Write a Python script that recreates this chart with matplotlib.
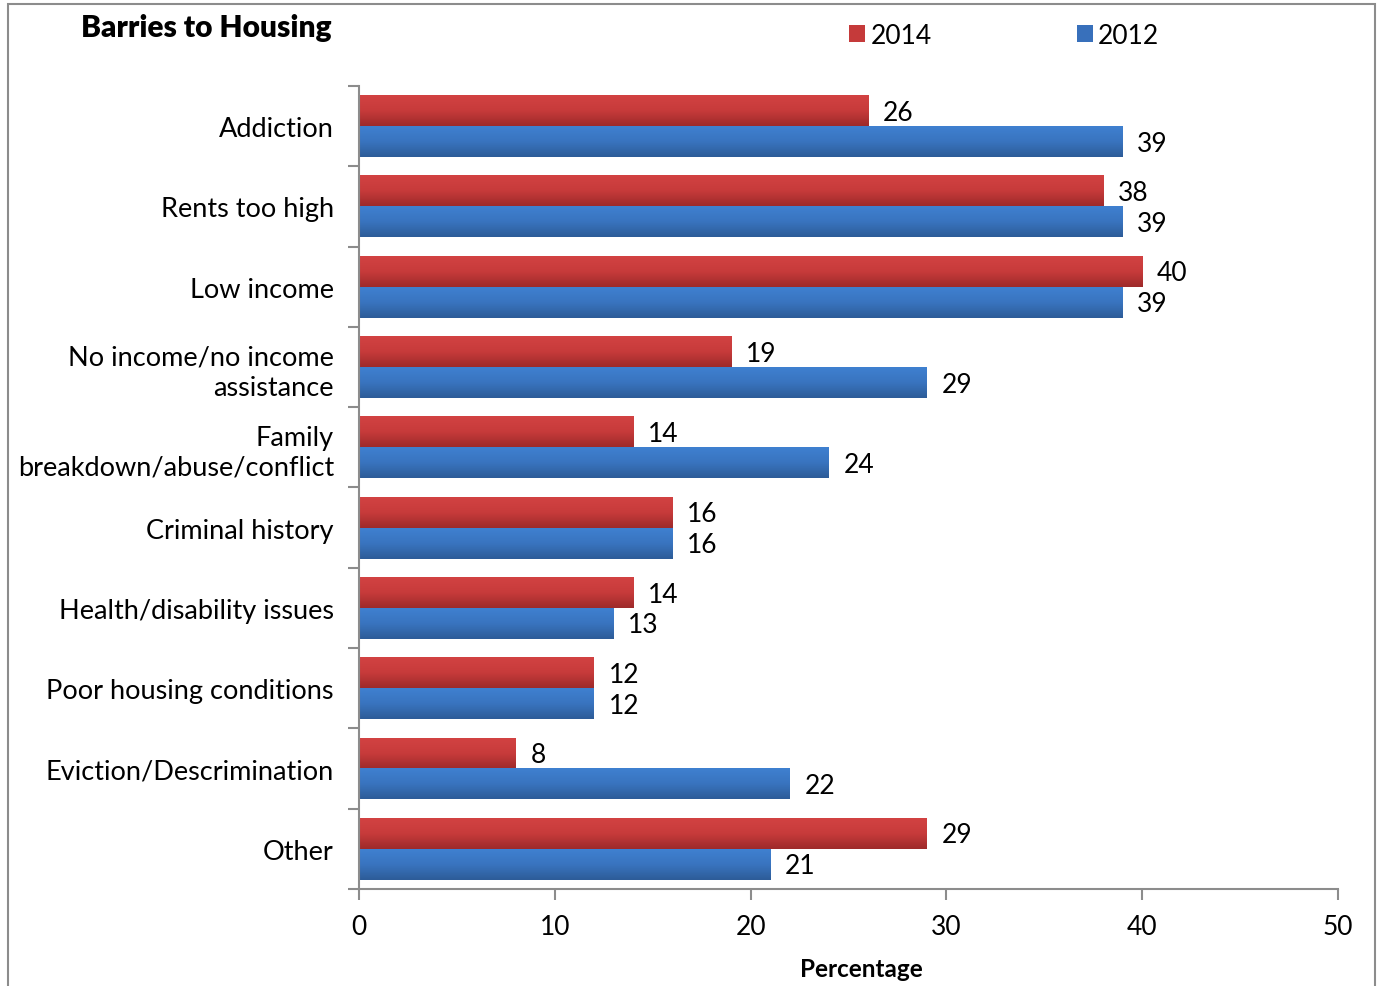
import numpy as np
import matplotlib.pyplot as plt
from matplotlib.colors import LinearSegmentedColormap
from matplotlib.patches import Patch, Rectangle

categories = [
    "Addiction",
    "Rents too high",
    "Low income",
    "No income/no income\nassistance",
    "Family\nbreakdown/abuse/conflict",
    "Criminal history",
    "Health/disability issues",
    "Poor housing conditions",
    "Eviction/Descrimination",
    "Other",
]
values_2014 = [26, 38, 40, 19, 14, 16, 14, 12, 8, 29]
values_2012 = [39, 39, 39, 29, 24, 16, 13, 12, 22, 21]
x_ticks = [0, 10, 20, 30, 40, 50]

plt.rcParams["font.family"] = ["Lato", "DejaVu Sans"]

fig = plt.figure(figsize=(13.77, 9.87), dpi=100)
ax = fig.add_axes([0.2607, 0.0983, 0.711, 0.8136])

n = len(categories)
y = np.arange(n)
h = 0.385

red_cmap = LinearSegmentedColormap.from_list("r", ["#d24242", "#c73b3b", "#9e2a2a"])
blue_cmap = LinearSegmentedColormap.from_list("b", ["#3f80d0", "#3974bf", "#2d5c98"])

bars_red = ax.barh(y - h / 2, values_2014, height=h, color="#c53a3a", label="2014")
bars_blue = ax.barh(y + h / 2, values_2012, height=h, color="#3870bb", label="2012")

grad = np.linspace(0, 1, 64).reshape(-1, 1)
for bars, cmap in [(bars_red, red_cmap), (bars_blue, blue_cmap)]:
    for b in bars:
        x0, y0 = b.get_x(), b.get_y()
        w, hh = b.get_width(), b.get_height()
        # y axis is inverted, so y0 is the top edge of the bar
        ax.imshow(grad, cmap=cmap, aspect="auto", extent=(x0, x0 + w, y0 + hh, y0),
                  zorder=2, interpolation="bilinear")
        b.set_alpha(0)

for bars, vals in [(bars_red, values_2014), (bars_blue, values_2012)]:
    for b, v in zip(bars, vals):
        ax.text(v + 0.75, b.get_y() + b.get_height() / 2 + 0.02, str(v),
                va="center", ha="left", fontsize=19)

ax.set_xlim(0, 50)
ax.set_ylim(n - 0.5, -0.5)
ax.set_xticks(x_ticks)
ax.set_xticklabels([str(t) for t in x_ticks], fontsize=19)
ax.set_yticks(y)
ax.set_yticklabels(categories, fontsize=19.5, linespacing=1.25)
ax.set_yticks(np.arange(-0.5, n, 1), minor=True)
ax.tick_params(axis="y", which="major", length=0, pad=18)
ax.tick_params(axis="y", which="minor", length=8, width=1.5, color="#8c8c8c", direction="out")
ax.tick_params(axis="x", which="major", length=8, width=1.5, color="#8c8c8c", pad=10)

for s in ["top", "right"]:
    ax.spines[s].set_visible(False)
for s in ["left", "bottom"]:
    ax.spines[s].set_color("#8c8c8c")
    ax.spines[s].set_linewidth(1.5)

ax.set_xlabel("Percentage", fontsize=17.5, fontweight="bold")
ax.xaxis.set_label_coords(0.513, -0.085)

fig.text(0.059, 0.972, "Barries to Housing", fontsize=21.5, fontweight="heavy",
         ha="left", va="center")

handles = [Patch(facecolor="#c53a3a"), Patch(facecolor="#3870bb")]
fig.legend(handles, ["2014", "2012"], loc="center left", bbox_to_anchor=(0.5995, 0.963),
           ncol=2, frameon=False, fontsize=19, handlelength=0.6, handleheight=0.6,
           handletextpad=0.2, columnspacing=5.5)

fig.patches.append(Rectangle((0.0058, -0.01), 0.9927, 1.005, transform=fig.transFigure,
                             fill=False, edgecolor="#8c8c8c", linewidth=1.5))

fig.savefig("out.png", dpi=100)
